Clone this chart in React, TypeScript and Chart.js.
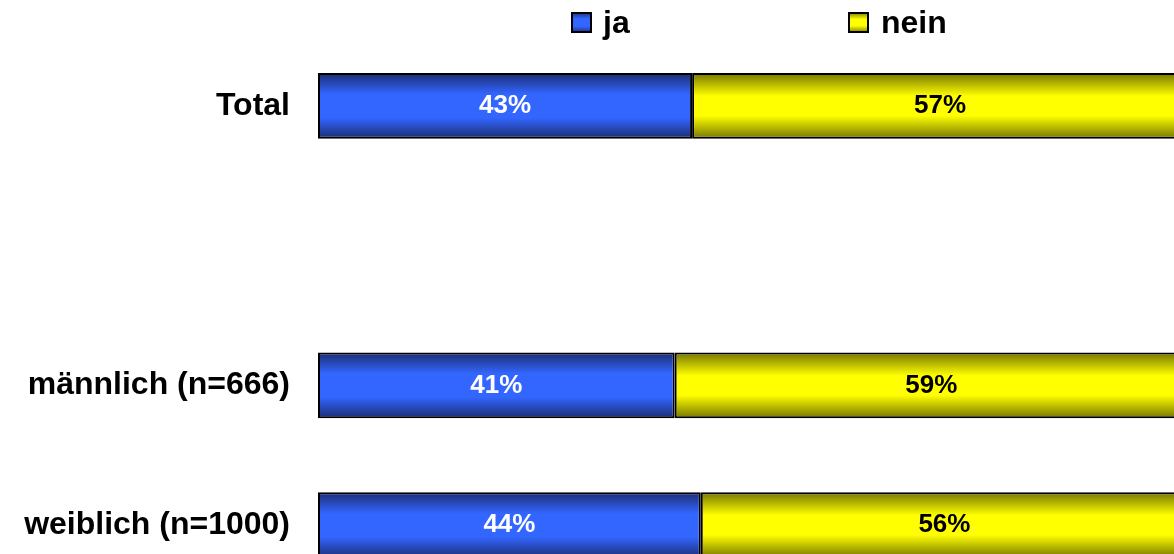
import React, { useEffect, useRef } from "react";
import { Chart, registerables } from "chart.js";

Chart.register(...registerables);

// ---- Data ----
const categories: string[] = ["Total", "", "männlich (n=666)", "weiblich (n=1000)"];
const seriesNames: string[] = ["ja", "nein"];
const jaValues: (number | null)[] = [43, null, 41, 44];
const neinValues: (number | null)[] = [57, null, 59, 56];

// ---- Styles ----
const FONT = "'Liberation Sans', Arial, Helvetica, sans-serif";
const blueStops: [number, string][] = [
  [0, "#1b2c72"],
  [0.32, "#3366ff"],
  [0.68, "#3366ff"],
  [1, "#1b2c72"],
];
const yellowStops: [number, string][] = [
  [0, "#757500"],
  [0.35, "#ffff00"],
  [0.65, "#ffff00"],
  [1, "#757500"],
];
const labelColors = ["#ffffff", "#000000"];
const BAR_PCT = 0.469;

function makeGradient(ctx: CanvasRenderingContext2D, top: number, bottom: number, stops: [number, string][]) {
  const g = ctx.createLinearGradient(0, top, 0, bottom);
  stops.forEach(([o, c]) => g.addColorStop(o, c));
  return g;
}

function barFill(stops: [number, string][]) {
  return (context: any) => {
    const chart = context.chart;
    const yScale = chart.scales?.y;
    if (!yScale || context.dataIndex === undefined) return stops[1][1];
    const center = yScale.getPixelForValue(context.dataIndex);
    const band = Math.abs(yScale.getPixelForValue(1) - yScale.getPixelForValue(0));
    const half = (band * BAR_PCT) / 2;
    if (!isFinite(center) || !isFinite(half) || half <= 0) return stops[1][1];
    return makeGradient(chart.ctx, center - half, center + half, stops);
  };
}

const valueLabelPlugin = {
  id: "valueLabels",
  afterDatasetsDraw(chart: any) {
    const ctx = chart.ctx;
    ctx.save();
    ctx.font = `bold 26px ${FONT}`;
    ctx.textAlign = "center";
    ctx.textBaseline = "middle";
    chart.data.datasets.forEach((ds: any, di: number) => {
      const meta = chart.getDatasetMeta(di);
      meta.data.forEach((el: any, i: number) => {
        const v = ds.data[i];
        if (v === null || v === undefined) return;
        ctx.fillStyle = labelColors[di];
        ctx.fillText(`${v}%`, (el.x + el.base) / 2, el.y);
      });
    });
    ctx.restore();
  },
};

const legendPositions = [
  { box: 571, text: 603 },
  { box: 848, text: 881 },
];

const customLegendPlugin = {
  id: "customLegend",
  afterDraw(chart: any) {
    const ctx = chart.ctx;
    ctx.save();
    const size = 21;
    const top = 12;
    chart.data.datasets.forEach((ds: any, di: number) => {
      const pos = legendPositions[di];
      const stops = di === 0 ? blueStops : yellowStops;
      ctx.fillStyle = makeGradient(ctx, top, top + size, stops);
      ctx.fillRect(pos.box, top, size, size);
      ctx.lineWidth = 2;
      ctx.strokeStyle = "#000000";
      ctx.strokeRect(pos.box + 1, top + 1, size - 2, size - 2);
      ctx.fillStyle = "#000000";
      ctx.font = `bold 32px ${FONT}`;
      ctx.textAlign = "left";
      ctx.textBaseline = "alphabetic";
      ctx.fillText(ds.label, pos.text, 33);
    });
    ctx.restore();
  },
};

export default function App() {
  const canvasRef = useRef<HTMLCanvasElement | null>(null);

  useEffect(() => {
    if (!canvasRef.current) return;
    const chart = new Chart(canvasRef.current, {
      type: "bar",
      data: {
        labels: categories,
        datasets: [
          {
            label: seriesNames[0],
            data: jaValues,
            backgroundColor: barFill(blueStops),
            borderColor: "#000000",
            borderWidth: 2,
            borderSkipped: false,
            barPercentage: BAR_PCT,
            categoryPercentage: 1,
          },
          {
            label: seriesNames[1],
            data: neinValues,
            backgroundColor: barFill(yellowStops),
            borderColor: "#000000",
            borderWidth: 2,
            borderSkipped: false,
            barPercentage: BAR_PCT,
            categoryPercentage: 1,
          },
        ],
      },
      options: {
        indexAxis: "y",
        animation: false,
        responsive: false,
        devicePixelRatio: 1,
        layout: { padding: { left: 0, top: 36, right: 12, bottom: 5 } },
        plugins: {
          legend: { display: false },
          tooltip: { enabled: false },
          title: { display: false },
        },
        scales: {
          x: {
            stacked: true,
            min: 0,
            max: 100,
            display: false,
          },
          y: {
            stacked: true,
            grid: { display: false, drawTicks: false },
            border: { display: false },
            ticks: {
              padding: 28,
              color: "#000000",
              font: { family: FONT, size: 32, weight: "bold" },
            },
            afterFit: (scale: any) => {
              scale.width = 318;
              scale.paddingTop = 0;
              scale.paddingBottom = 0;
            },
          },
        },
      },
      plugins: [valueLabelPlugin, customLegendPlugin],
    } as any);
    return () => chart.destroy();
  }, []);

  return (
    <div
      style={{
        position: "fixed",
        left: 0,
        top: 0,
        width: 1174,
        height: 554,
        overflow: "hidden",
        background: "#ffffff",
      }}
    >
      <canvas ref={canvasRef} width={1200} height={600} style={{ display: "block" }} />
    </div>
  );
}
